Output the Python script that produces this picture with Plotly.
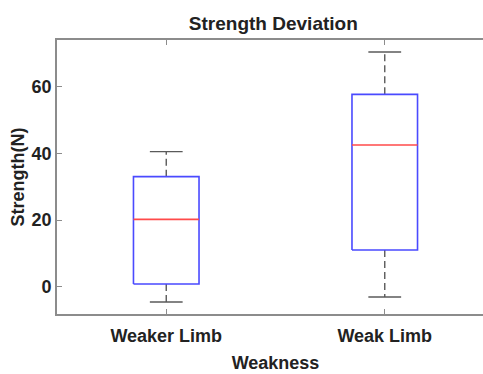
import plotly.graph_objects as go

categories = ["Weaker Limb", "Weak Limb"]
lower_whisker = [-4.6, -3.1]
q1 = [0.8, 11.0]
median = [20.2, 42.5]
q3 = [33.0, 57.7]
upper_whisker = [40.5, 70.4]

positions = [i + 1 for i in range(len(categories))]
BOX_HALF = 0.15
CAP_HALF = 0.075

fig = go.Figure()

bx, by, wx, wy, cx, cy, mx, my = [], [], [], [], [], [], [], []
for p, lo, a, m, b, hi in zip(positions, lower_whisker, q1, median, q3, upper_whisker):
    bx += [p - BOX_HALF, p + BOX_HALF, p + BOX_HALF, p - BOX_HALF, p - BOX_HALF, None]
    by += [a, a, b, b, a, None]
    wx += [p, p, None, p, p, None]
    wy += [b, hi, None, a, lo, None]
    cx += [p - CAP_HALF, p + CAP_HALF, None, p - CAP_HALF, p + CAP_HALF, None]
    cy += [hi, hi, None, lo, lo, None]
    mx += [p - BOX_HALF, p + BOX_HALF, None]
    my += [m, m, None]

fig.add_trace(go.Scatter(x=wx, y=wy, mode="lines",
                         line=dict(color="#5a5a5a", width=1.4, dash="7px,4px"),
                         showlegend=False, hoverinfo="skip"))
fig.add_trace(go.Scatter(x=cx, y=cy, mode="lines", yaxis="y2",
                         line=dict(color="#5a5a5a", width=1.4),
                         showlegend=False, hoverinfo="skip"))
fig.add_trace(go.Scatter(x=bx, y=by, mode="lines",
                         line=dict(color="#4a4aff", width=1.6),
                         showlegend=False, hoverinfo="skip"))
fig.add_trace(go.Scatter(x=mx, y=my, mode="lines",
                         line=dict(color="#ff4a4a", width=1.6),
                         showlegend=False, hoverinfo="skip"))

font_family = "Liberation Sans, Arial, sans-serif"
text_color = "#222222"
axis_color = "#8c8c8c"
y_range = [-8.2, 74.0]
y_ticks = [0, 20, 40, 60]

fig.update_layout(
    width=494, height=374,
    margin=dict(l=57, r=0, t=40, b=60, autoexpand=False),
    showlegend=False,
    paper_bgcolor="white", plot_bgcolor="white",
    font=dict(family=font_family, size=18, color=text_color, weight="bold"),
    title=dict(text="Strength Deviation", x=0.495, xref="paper", xanchor="center",
               y=1 - 23 / 374, yref="container", yanchor="middle",
               font=dict(size=19, weight="bold", family=font_family, color=text_color)),
    xaxis=dict(
        range=[0.5, 2.5], tickvals=positions, ticktext=categories,
        ticks="inside", ticklen=5, tickcolor=axis_color, tickwidth=1.3,
        showline=True, linecolor=axis_color, linewidth=1.6, mirror="ticks",
        showgrid=False, zeroline=False, ticklabelstandoff=5, automargin=False,
        title=dict(text="Weakness", standoff=11,
                   font=dict(size=18, weight="bold", family=font_family, color=text_color)),
        tickfont=dict(size=18, weight="bold", family=font_family, color=text_color),
    ),
    yaxis=dict(
        range=y_range, tickvals=y_ticks,
        ticks="inside", ticklen=5, tickcolor=axis_color, tickwidth=1.3,
        showline=True, linecolor=axis_color, linewidth=1.6, mirror=False,
        showgrid=False, zeroline=False, automargin=False,
        title=dict(text="Strength(N)", standoff=2,
                   font=dict(size=18, weight="bold", family=font_family, color=text_color)),
        tickfont=dict(size=18, weight="bold", family=font_family, color=text_color),
    ),
    yaxis2=dict(
        range=y_range, tickvals=y_ticks, overlaying="y", side="right",
        ticks="inside", ticklen=5, tickcolor=axis_color, tickwidth=1.3, automargin=False,
        showline=False, showgrid=False, zeroline=False, showticklabels=False,
    ),
)

fig.write_html("out.html")
